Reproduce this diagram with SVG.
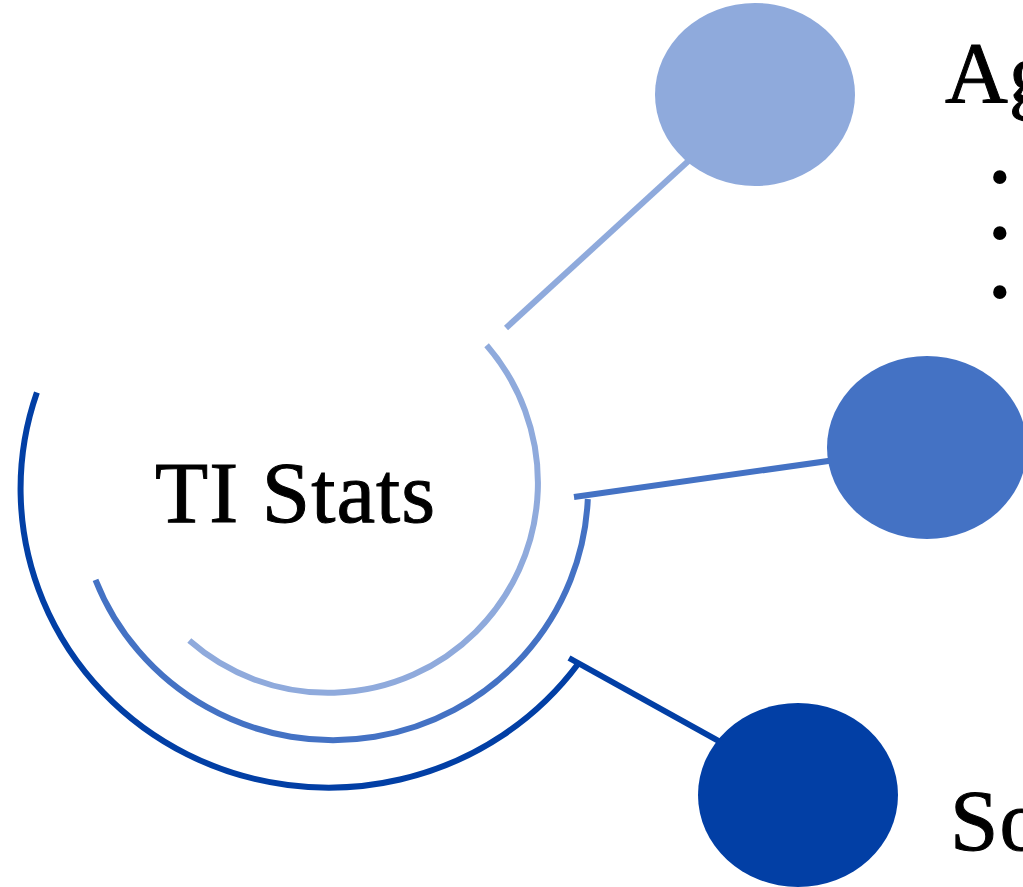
<svg xmlns="http://www.w3.org/2000/svg" width="1023" height="887" viewBox="0 0 1023 887">
  <style>
    .light { stroke: #8FAADC; }
    .mid { stroke: #4472C4; }
    .dark { stroke: #023FA5; }
    .ring, .link { fill: none; stroke-width: 6; stroke-linecap: butt; }
    .label { font-family: "Liberation Serif", "Times New Roman", serif; font-size: 87px; fill: #000; stroke: #000; stroke-width: 1; letter-spacing: 1px; }
    .bullet { font-family: "Liberation Serif", "Times New Roman", serif; font-size: 56px; fill: #000; }
  </style>
  <rect width="1023" height="887" fill="#fff"/>

  <!-- connectors: spokes from the rings out to the topic discs -->
  <g id="connectors">
    <line class="link light" x1="506" y1="328" x2="755" y2="100"/>
    <line class="link mid" x1="574" y1="497" x2="927" y2="447"/>
    <line class="link dark" x1="569" y1="658" x2="798" y2="785"/>
  </g>

  <!-- hub: three open rings around the title -->
  <g id="hub">
    <path class="ring light" d="M 486.6 345.3 A 210 210 0 0 1 189.3 640.6"/>
    <path class="ring mid" d="M 587.8 499 A 255 252 0 0 1 95.5 579.8"/>
    <path class="ring dark" d="M 578.2 663.8 A 308 299 0 0 1 36.9 392.6"/>
    <text class="label" x="155" y="522">TI Stats</text>
  </g>

  <g id="node-top">
    <ellipse cx="755" cy="94.5" rx="100" ry="91.5" fill="#8FAADC"/>
    <text class="label" x="945" y="102">Ag</text>
    <text class="bullet" x="990" y="196">•</text>
    <text class="bullet" x="990" y="252">•</text>
    <text class="bullet" x="990" y="311">•</text>
  </g>

  <g id="node-middle">
    <ellipse cx="927" cy="447.5" rx="100" ry="91.5" fill="#4472C4"/>
  </g>

  <g id="node-bottom">
    <ellipse cx="798" cy="795" rx="100" ry="92" fill="#023FA5"/>
    <text class="label" x="950" y="850">So</text>
  </g>
</svg>
